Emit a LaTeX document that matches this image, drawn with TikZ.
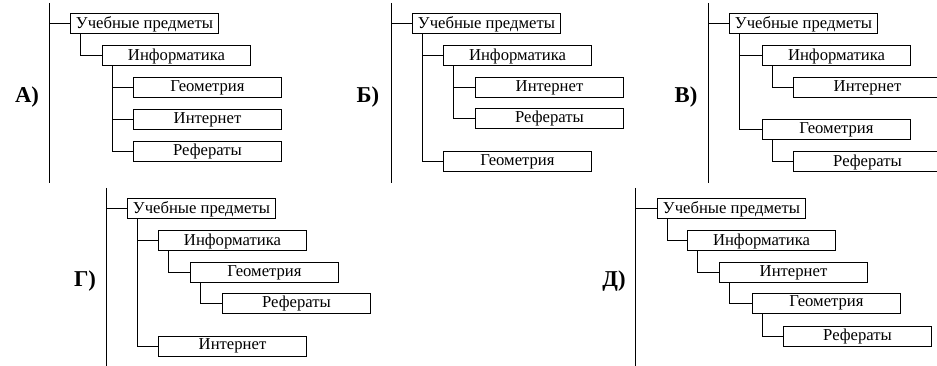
\documentclass[tikz,border=0pt]{standalone}
\usepackage{fontspec}
\setmainfont{Liberation Serif}
\usetikzlibrary{positioning}

\tikzset{
	subj/.style = {draw, black, line width = 0.75pt, anchor = west, minimum width = 111pt, minimum height = 15pt, inner sep = 0pt, font = \fontsize{12.5}{14}\selectfont},
	letter/.style = {font = \fontsize{17}{20}\selectfont\bfseries},
	link/.style = {black, line width = 0.75pt}
}

\begin{document}
\begin{tikzpicture}[x = 0.75pt, y = -0.75pt]
					\useasboundingbox (0, 0) rectangle (937, 366);
					% A)
					\node [letter] (alab) at (27, 97) {А)};
					\coordinate (atop) at (49, 3);
					\coordinate (abot) at (49, 183);
					\node [subj] (a0) at (70, 24) {Учебные предметы};
					\node [subj] (a1) at (102, 56) {Информатика};
					\node [subj] (a2) at (133, 88) {Геометрия};
					\node [subj] (a3) at (133, 119.5) {Интернет};
					\node [subj] (a4) at (133, 151.5) {Рефераты};
					\draw [link] (atop) -- (abot);
					\draw [link] (atop |- a0.west) -- (a0.west);
					\draw [link] ([xshift = 8pt] a0.south west) |- (a1.west);
					\draw [link] ([xshift = 8pt] a1.south west) |- (a2.west);
					\draw [link] ([xshift = 8pt] a1.south west) |- (a3.west);
					\draw [link] ([xshift = 8pt] a1.south west) |- (a4.west);
					% Б)
					\node [letter] (blab) at (368, 97) {Б)};
					\coordinate (btop) at (391, 3);
					\coordinate (bbot) at (391, 183);
					\node [subj] (b0) at (412, 24) {Учебные предметы};
					\node [subj] (b1) at (443, 56) {Информатика};
					\node [subj] (b2) at (475, 88) {Интернет};
					\node [subj] (b3) at (475, 118.5) {Рефераты};
					\node [subj] (b4) at (443, 162) {Геометрия};
					\draw [link] (btop) -- (bbot);
					\draw [link] (btop |- b0.west) -- (b0.west);
					\draw [link] ([xshift = 8pt] b0.south west) |- (b1.west);
					\draw [link] ([xshift = 8pt] b0.south west) |- (b4.west);
					\draw [link] ([xshift = 8pt] b1.south west) |- (b2.west);
					\draw [link] ([xshift = 8pt] b1.south west) |- (b3.west);
					% В)
					\node [letter] (clab) at (686, 97) {В)};
					\coordinate (ctop) at (708, 3);
					\coordinate (cbot) at (708, 183);
					\node [subj] (c0) at (729, 24) {Учебные предметы};
					\node [subj] (c1) at (762, 56) {Информатика};
					\node [subj] (c2) at (793, 88) {Интернет};
					\node [subj] (c3) at (762, 130) {Геометрия};
					\node [subj] (c4) at (793, 162) {Рефераты};
					\draw [link] (ctop) -- (cbot);
					\draw [link] (ctop |- c0.west) -- (c0.west);
					\draw [link] ([xshift = 8pt] c0.south west) |- (c1.west);
					\draw [link] ([xshift = 8pt] c0.south west) |- (c3.west);
					\draw [link] ([xshift = 8pt] c1.south west) |- (c2.west);
					\draw [link] ([xshift = 8pt] c3.south west) |- (c4.west);
					% Г)
					\node [letter] (dlab) at (85, 281) {Г)};
					\coordinate (dtop) at (106, 188);
					\coordinate (dbot) at (106, 366);
					\node [subj] (d0) at (127, 209) {Учебные предметы};
					\node [subj] (d1) at (158, 241) {Информатика};
					\node [subj] (d2) at (190, 272.5) {Геометрия};
					\node [subj] (d3) at (222, 303) {Рефераты};
					\node [subj] (d4) at (158, 346) {Интернет};
					\draw [link] (dtop) -- (dbot);
					\draw [link] (dtop |- d0.west) -- (d0.west);
					\draw [link] ([xshift = 8pt] d0.south west) |- (d1.west);
					\draw [link] ([xshift = 8pt] d0.south west) |- (d4.west);
					\draw [link] ([xshift = 8pt] d1.south west) |- (d2.west);
					\draw [link] ([xshift = 8pt] d2.south west) |- (d3.west);
					% Д)
					\node [letter] (elab) at (614, 281) {Д)};
					\coordinate (etop) at (635, 188);
					\coordinate (ebot) at (635, 366);
					\node [subj] (e0) at (657, 209) {Учебные предметы};
					\node [subj] (e1) at (687, 241) {Информатика};
					\node [subj] (e2) at (719, 272.5) {Интернет};
					\node [subj] (e3) at (752, 303) {Геометрия};
					\node [subj] (e4) at (783, 336) {Рефераты};
					\draw [link] (etop) -- (ebot);
					\draw [link] (etop |- e0.west) -- (e0.west);
					\draw [link] ([xshift = 8pt] e0.south west) |- (e1.west);
					\draw [link] ([xshift = 8pt] e1.south west) |- (e2.west);
					\draw [link] ([xshift = 8pt] e2.south west) |- (e3.west);
					\draw [link] ([xshift = 8pt] e3.south west) |- (e4.west);
				\end{tikzpicture}
\end{document}
